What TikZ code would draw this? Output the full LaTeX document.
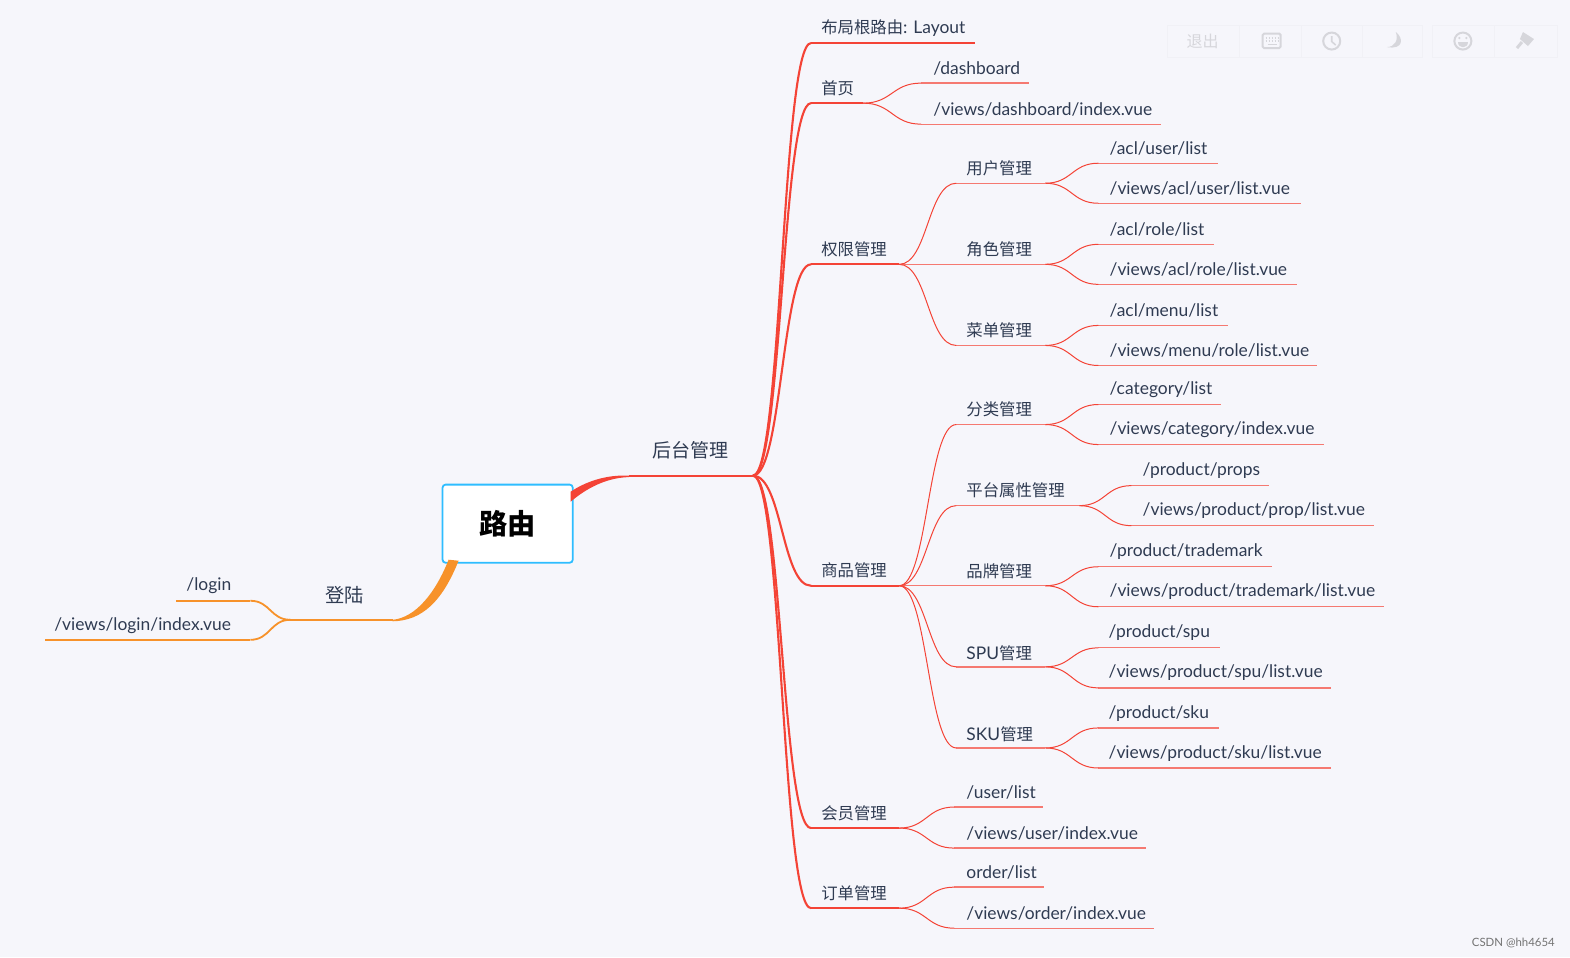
\documentclass[tikz,border=0pt]{standalone}
\usepackage{fontspec}
\setmainfont{Lato}
\newfontfamily\cjk[Scale=0.94]{Noto Sans CJK SC}
\usetikzlibrary{calc}
\definecolor{pagebg}{HTML}{F6F6FB}
\definecolor{inktext}{HTML}{2F3B52}
\definecolor{redline}{HTML}{F44336}
\definecolor{orangeline}{HTML}{F7922A}
\definecolor{rootblue}{HTML}{2EBDFF}
\definecolor{faintbox}{HTML}{F1F1F6}
\definecolor{faintico}{HTML}{D6D6DB}
\newcommand{\Z}[1]{{\cjk #1}}
\tikzset{
  x=1pt,y=-1pt,
  labeltext/.style={anchor=west,inner sep=0pt,yshift=-1pt,text=inktext,font=\fontsize{17.4}{20}\selectfont},
  rule one/.style={draw=redline,line width=2.2pt},
  rule two/.style={draw=redline!70!pagebg,line width=1.4pt},
  rule three/.style={draw=redline!70!pagebg,line width=1.3pt},
  rule orange/.style={draw=orangeline,line width=2pt},
  curve one/.style={draw=redline,line width=2.1pt},
  curve two/.style={draw=redline,line width=1pt},
  curve three/.style={draw=redline,line width=1pt},
  curve orange/.style={draw=orangeline,line width=1.8pt},
  toolbox/.style={draw=faintbox,line width=.8pt},
  toolico/.style={draw=faintico,line width=2pt},
}
% name, rule left x, rule right x, rule y, text x, text y, text, rule style
\newcommand{\topic}[8]{%
  \coordinate (#1-l) at (#2,#4);
  \coordinate (#1-r) at (#3,#4);
  \node[labeltext] (#1) at (#5,#6) {#7};
  \draw[#8] (#1-l) -- (#1-r);
}
\newcommand{\conn}[3]{%
  \draw[#3] let \p1=(#1),\p2=(#2) in
    (\p1) .. controls ({0.5*\x1+0.5*\x2},\y1) and ({0.5*\x1+0.5*\x2},\y2) .. (\p2);
}
\begin{document}
\begin{tikzpicture}
\useasboundingbox[fill=pagebg] (0,0) rectangle (1568,956);

% toolbar
\draw[toolbox] (1166,25) rectangle (1421,57);
\draw[toolbox] (1238,25) -- (1238,57) (1300,25) -- (1300,57) (1361,25) -- (1361,57);
\draw[toolbox] (1431,25) rectangle (1555,57);
\draw[toolbox] (1492,25) -- (1492,57);
\node[inner sep=0pt,text=faintico,font=\fontsize{17}{19}\selectfont\cjk] (exitlabel) at (1201,41) {退出};
\draw[toolico,rounded corners=1.5pt] (1261,33.5) rectangle (1279,48);
\draw[faintico,line width=1.2pt,dash pattern=on 1.5pt off 1.5pt] (1264,38) -- (1277,38) (1264,41) -- (1277,41);
\draw[faintico,line width=1.2pt] (1266,44.5) -- (1275,44.5);
\draw[toolico] (1330,41) circle (8.5);
\draw[faintico,line width=1.6pt] (1330,36) -- (1330,41.5) -- (1334,45);
\fill[faintico] (1394,32) .. controls (1402,38) and (1402,50) .. (1385,47) .. controls (1393,47) and (1397,40) .. (1394,32) -- cycle;
\draw[toolico] (1461,41) circle (8.5);
\fill[faintico] (1457.5,38) circle (1.2) (1464.5,38) circle (1.2);
\fill[faintico] (1456,42) -- (1466,42) .. controls (1466,49) and (1456,49) .. (1456,42) -- cycle;
\fill[faintico] (1521,32) -- (1532,39) -- (1526,46) -- (1518,39) -- cycle;
\draw[faintico,line width=3pt] (1520,42) -- (1515,48);

\node[inner sep=0pt,anchor=east,text=black!55,font=\fontsize{11.4}{13}\selectfont] (mark) at (1553,942) {CSDN @hh4654};

% root
\node[draw=rootblue,line width=1.8pt,fill=white,rounded corners=3pt,minimum width=130pt,minimum height=78pt,inner sep=0pt,font=\fontsize{30}{33}\selectfont\cjk\bfseries,text=black] (root) at (507,523) {路由};

% orange side
\topic{login}{290}{392}{619}{325}{593}{\fontsize{20.5}{22}\selectfont\Z{登陆}}{rule orange}
\topic{loginpath}{176}{250}{600}{186}{584}{/login}{rule orange}
\topic{loginview}{45}{250}{639}{54}{624}{/views/login/index.vue}{rule orange}
\conn{login-l}{loginpath-r}{curve orange}
\conn{login-l}{loginview-r}{curve orange}
\coordinate (oa) at (448,559);
\coordinate (ob) at (458,560);
\fill[orangeline] (oa) .. controls (435,592) and (415,617) .. (login-r) -- ++(0,1.5) .. controls (422,620) and (442,600) .. (ob) -- cycle;

% red trunk
\topic{admin}{628}{752}{475}{651}{449}{\fontsize{20.2}{22}\selectfont\Z{后台管理}}{draw=redline,line width=1.8pt}
\coordinate (ra) at (570,491);
\coordinate (rb) at (570,501);
\fill[redline] (ra) .. controls (585,481) and (605,474) .. (admin-l) -- ++(0,1.5) .. controls (610,477) and (590,484) .. (rb) -- cycle;

% level one
\topic{layout}{810}{974}{43}{820}{27}{\Z{布局根路由}: Layout}{rule one}
\topic{home}{810}{862}{103}{820}{87}{\Z{首页}}{rule one}
\topic{acl}{810}{898}{264}{820}{248}{\Z{权限管理}}{rule one}
\topic{product}{810}{898}{585}{820}{569}{\Z{商品管理}}{rule one}
\topic{member}{810}{898}{827}{820}{811}{\Z{会员管理}}{rule one}
\topic{order}{810}{898}{907}{820}{891}{\Z{订单管理}}{rule one}
\conn{admin-r}{layout-l}{curve one}
\conn{admin-r}{home-l}{curve one}
\conn{admin-r}{acl-l}{curve one}
\conn{admin-r}{product-l}{curve one}
\conn{admin-r}{member-l}{curve one}
\conn{admin-r}{order-l}{curve one}

% home
\topic{dash}{920}{1028}{83}{932}{67}{/dashboard}{rule three}
\topic{dashv}{920}{1160}{124}{932}{108}{/views/dashboard/index.vue}{rule three}
\conn{home-r}{dash-l}{curve three}
\conn{home-r}{dashv-l}{curve three}

% acl
\topic{user}{955}{1044}{183}{965}{167}{\Z{用户管理}}{rule two}
\topic{role}{898}{1044}{264}{965}{248}{\Z{角色管理}}{rule two}
\topic{menu}{955}{1044}{345}{965}{329}{\Z{菜单管理}}{rule two}
\conn{acl-r}{user-l}{curve two}
\conn{acl-r}{menu-l}{curve two}
\topic{userp}{1097}{1216}{163}{1108}{147}{/acl/user/list}{rule three}
\topic{userv}{1097}{1299}{203}{1108}{187}{/views/acl/user/list.vue}{rule three}
\topic{rolep}{1097}{1212}{244}{1108}{228}{/acl/role/list}{rule three}
\topic{rolev}{1097}{1295}{284}{1108}{268}{/views/acl/role/list.vue}{rule three}
\topic{menup}{1097}{1226}{325}{1108}{309}{/acl/menu/list}{rule three}
\topic{menuv}{1097}{1315}{365}{1108}{349}{/views/menu/role/list.vue}{rule three}
\conn{user-r}{userp-l}{curve three}
\conn{user-r}{userv-l}{curve three}
\conn{role-r}{rolep-l}{curve three}
\conn{role-r}{rolev-l}{curve three}
\conn{menu-r}{menup-l}{curve three}
\conn{menu-r}{menuv-l}{curve three}

% product
\topic{cat}{955}{1044}{424}{965}{408}{\Z{分类管理}}{rule two}
\topic{attr}{955}{1078}{505}{965}{489}{\Z{平台属性管理}}{rule two}
\topic{brand}{898}{1044}{585}{965}{570}{\Z{品牌管理}}{rule two}
\topic{spu}{955}{1044}{666}{965}{651}{SPU\Z{管理}}{rule two}
\topic{sku}{955}{1044}{747}{965}{732}{SKU\Z{管理}}{rule two}
\conn{product-r}{cat-l}{curve two}
\conn{product-r}{attr-l}{curve two}
\conn{product-r}{spu-l}{curve two}
\conn{product-r}{sku-l}{curve two}
\topic{catp}{1097}{1219}{404}{1108}{388}{/category/list}{rule three}
\topic{catv}{1097}{1322}{444}{1108}{428}{/views/category/index.vue}{rule three}
\topic{attrp}{1130}{1267}{485}{1141}{469}{/product/props}{rule three}
\topic{attrv}{1130}{1372}{525}{1141}{509}{/views/product/prop/list.vue}{rule three}
\topic{brandp}{1097}{1270}{566}{1108}{550}{/product/trademark}{rule three}
\topic{brandv}{1097}{1382}{606}{1108}{590}{/views/product/trademark/list.vue}{rule three}
\topic{spup}{1097}{1218}{647}{1107}{631}{/product/spu}{rule three}
\topic{spuv}{1097}{1329}{687}{1107}{671}{/views/product/spu/list.vue}{rule three}
\topic{skup}{1097}{1217}{727}{1107}{712}{/product/sku}{rule three}
\topic{skuv}{1097}{1329}{767}{1107}{752}{/views/product/sku/list.vue}{rule three}
\conn{cat-r}{catp-l}{curve three}
\conn{cat-r}{catv-l}{curve three}
\conn{attr-r}{attrp-l}{curve three}
\conn{attr-r}{attrv-l}{curve three}
\conn{brand-r}{brandp-l}{curve three}
\conn{brand-r}{brandv-l}{curve three}
\conn{spu-r}{spup-l}{curve three}
\conn{spu-r}{spuv-l}{curve three}
\conn{sku-r}{skup-l}{curve three}
\conn{sku-r}{skuv-l}{curve three}

% member, order
\topic{memp}{953}{1042}{806}{965}{790}{/user/list}{rule three}
\topic{memv}{953}{1145}{847}{965}{831}{/views/user/index.vue}{rule three}
\topic{ordp}{953}{1043}{886}{965}{870}{order/list}{rule three}
\topic{ordv}{953}{1153}{927}{965}{911}{/views/order/index.vue}{rule three}
\conn{member-r}{memp-l}{curve three}
\conn{member-r}{memv-l}{curve three}
\conn{order-r}{ordp-l}{curve three}
\conn{order-r}{ordv-l}{curve three}
\end{tikzpicture}
\end{document}
